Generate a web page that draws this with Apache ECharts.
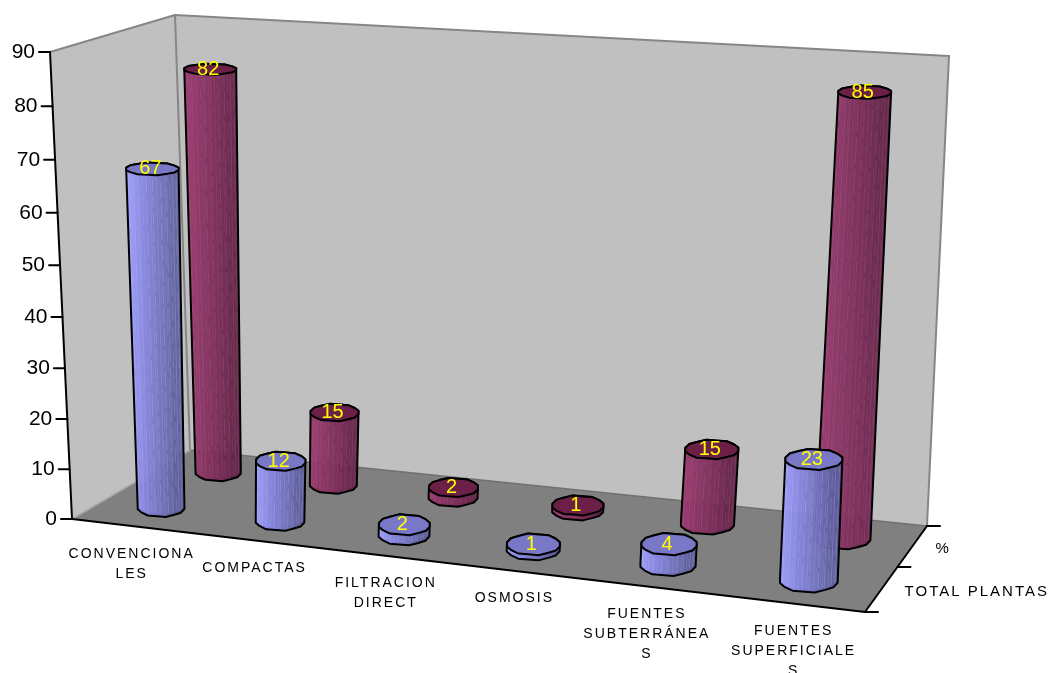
<!DOCTYPE html>
<html>
<head>
<meta charset="utf-8">
<style>html,body{margin:0;padding:0;background:#fff}#c{width:1050px;height:673px}</style>
<script src="https://cdn.jsdelivr.net/npm/echarts@6/dist/echarts.min.js"></script>
</head>
<body>
<div id="c"></div>
<script>
// Plant counts per treatment type, shown as two rows of 3D cylinders.
const categories = ['CONVENCIONALES', 'COMPACTAS', 'FILTRACION DIRECT', 'OSMOSIS', 'FUENTES SUBTERRÁNEAS', 'FUENTES SUPERFICIALES'];
const tickLabels = ['CONVENCIONA\nLES', 'COMPACTAS', 'FILTRACION\nDIRECT', 'OSMOSIS', 'FUENTES\nSUBTERRÁNEA\nS', 'FUENTES\nSUPERFICIALE\nS'];
const totalPlantas = [67, 12, 2, 1, 4, 23];
const porcentaje = [82, 15, 2, 1, 15, 85];
const valueTicks = [0, 10, 20, 30, 40, 50, 60, 70, 80, 90];
const depthNames = ['TOTAL PLANTAS', '%'];

// Box corners on screen, in the order front-left, front-right, back-right, back-left.
const FLOOR = [[72, 519], [865, 612], [927, 526], [190, 450]];
const CEILING = [[50, 52], [880, 105], [949, 56], [175, 15]];
const CAPTION_SHIFT = [1, 3, 8, 5, 0, 3];
const FONT = '"Liberation Sans", Arial, sans-serif';
const RU = 0.034, RD = 0.13, FACETS = 16, DENSE = 40, HEIGHT_BOW = 0.05;
const PALETTE = {
  blue: { stops: ['#9c9cff', '#8282dc', '#6c6cb4', '#50508c'], cap: '#7878c6', stripe: '#c4c4ff' },
  wine: { stops: ['#97356a', '#853060', '#702650', '#541c3c'], cap: '#6c2048', stripe: '#c06a98' }
};

// Homography from the unit square to the floor quad.
function quadMap(q) {
  const [[x0, y0], [x1, y1], [x2, y2], [x3, y3]] = q;
  const dx1 = x1 - x2, dx2 = x3 - x2, dx3 = x0 - x1 + x2 - x3;
  const dy1 = y1 - y2, dy2 = y3 - y2, dy3 = y0 - y1 + y2 - y3;
  const den = dx1 * dy2 - dx2 * dy1;
  const g = (dx3 * dy2 - dx2 * dy3) / den, h = (dx1 * dy3 - dx3 * dy1) / den;
  const a = x1 - x0 + g * x1, b = x3 - x0 + h * x3, d = y1 - y0 + g * y1, e = y3 - y0 + h * y3;
  return (u, t) => {
    const w = g * u + h * t + 1;
    return [(a * u + b * t + x0) / w, (d * u + e * t + y0) / w];
  };
}
// Bilinear blend across the ceiling quad.
function ceilingAt(u, t) {
  const [a, b, c, d] = CEILING;
  return [0, 1].map(k => (1 - t) * ((1 - u) * a[k] + u * b[k]) + t * ((1 - u) * d[k] + u * c[k]));
}
const floorAt = quadMap(FLOOR);
// Box coordinates (u along categories, d in depth, v up) to screen pixels.
function project(u, d, v) {
  const lo = floorAt(u, d), hi = ceilingAt(u, d);
  const f = v / (1 + HEIGHT_BOW * (1 - v));
  return [lo[0] + f * (hi[0] - lo[0]), lo[1] + f * (hi[1] - lo[1])];
}

const chart = echarts.init(document.getElementById('c'), null, { renderer: 'canvas' });
// Axis captions live on their own canvas layer so they can be letter-spaced.
const captionLayer = chart.getZr().painter.getLayer && chart.getZr().painter.getLayer(5);
if (captionLayer && captionLayer.ctx) captionLayer.ctx.letterSpacing = '2px';

// Grid coordinates of the hidden axes, normalised to the box.
function toUnit(api, cat, val) {
  const p = api.coord([cat, val]);
  return [p[0] / chart.getWidth(), 1 - p[1] / chart.getHeight()];
}
function line(a, b, color, width) {
  return { type: 'line', shape: { x1: a[0], y1: a[1], x2: b[0], y2: b[1] }, style: { stroke: color, lineWidth: width, lineCap: 'round' }, silent: true };
}
function poly(points, fill, stroke, width) {
  return { type: 'polygon', shape: { points }, style: { fill, stroke: stroke || null, lineWidth: width || 0, lineJoin: 'round' }, silent: true };
}
function hull(points) {
  const p = points.slice().sort((a, b) => a[0] - b[0] || a[1] - b[1]);
  const cross = (o, a, b) => (a[0] - o[0]) * (b[1] - o[1]) - (a[1] - o[1]) * (b[0] - o[0]);
  const lo = [], up = [];
  p.forEach(q => { while (lo.length > 1 && cross(lo[lo.length - 2], lo[lo.length - 1], q) <= 0) lo.pop(); lo.push(q); });
  p.slice().reverse().forEach(q => { while (up.length > 1 && cross(up[up.length - 2], up[up.length - 1], q) <= 0) up.pop(); up.push(q); });
  return lo.slice(0, -1).concat(up.slice(0, -1));
}

// Walls, floor, value axis and depth ticks.
function renderFrame(params, api) {
  const children = [
    poly([project(0, 0, 1), project(0, 1, 1), project(0, 1, 0), project(0, 0, 0)], '#c0c0c0'),
    poly([project(0, 1, 1), project(1, 1, 1), project(1, 1, 0), project(0, 1, 0)], '#c0c0c0'),
    poly([project(0, 0, 0), project(1, 0, 0), project(1, 1, 0), project(0, 1, 0)], '#808080'),
    line(project(0, 0, 1), project(0, 1, 1), '#868686', 2),
    line(project(0, 1, 1), project(1, 1, 1), '#868686', 2),
    line(project(0, 1, 1), project(0, 1, 0), '#868686', 2),
    line(project(1, 1, 1), project(1, 1, 0), '#868686', 2),
    line(project(0, 1, 0), project(1, 1, 0), '#707070', 1.5),
    line(project(0, 0, 0), project(0, 1, 0), '#a8a8a8', 1.5),
    line(project(0, 0, 1), project(0, 0, 0), '#000', 2),
    line(project(0, 0, 0), project(1, 0, 0), '#000', 2),
    line(project(1, 0, 0), project(1, 1, 0), '#000', 2)
  ];
  [0, 0.5, 1].forEach(d => {
    const p = project(1, d, 0);
    children.push(line(p, [p[0] + 13, p[1]], '#000', 2));
  });
  valueTicks.forEach(t => {
    const v = toUnit(api, 0, t)[1];
    const p = project(0, 0, v);
    children.push(line(p, [p[0] - 11, p[1]], '#000', 2));
    children.push({
      type: 'text', silent: true,
      style: { x: p[0] - 15, y: p[1], text: String(t), align: 'right', verticalAlign: 'middle', font: '21px ' + FONT, fill: '#000' }
    });
  });
  return { type: 'group', children };
}

// One cylinder: body hull, grain, outline, cap, value label.
function renderCylinder(depthIndex, pal) {
  return function (params, api) {
    const cat = api.value(0), val = api.value(1);
    const uc = toUnit(api, cat, 0)[0], v = toUnit(api, cat, val)[1];
    const dc = (depthIndex + 0.5) / 2;
    // Level ellipse at a given height, sized by the local perspective.
    const ellipse = h => {
      const c = project(uc, dc, h);
      const rx = Math.abs(project(uc + RU, dc, h)[0] - project(uc - RU, dc, h)[0]) / 2;
      const ry = Math.abs(project(uc, dc + RD, h)[1] - project(uc, dc - RD, h)[1]) / 2;
      return { c, rx, ry };
    };
    const eb = ellipse(0), et = ellipse(v);
    const ring = e => {
      const out = [];
      for (let i = 0; i < FACETS; i++) {
        const t = (i + 0.5) / FACETS * Math.PI * 2;
        const bump = i % 2 ? 1.05 : 0.96;
        out.push([e.c[0] + e.rx * Math.cos(t), e.c[1] + e.ry * bump * Math.sin(t)]);
      }
      return out;
    };
    const base = ring(eb), top = ring(et);
    const outline = hull(base.concat(top));
    const gradient = new echarts.graphic.LinearGradient(0, 0, 1, 0, pal.stops.map((c, i) => ({ offset: i / (pal.stops.length - 1), color: c })));
    const children = [{
      type: 'polygon', silent: true, shape: { points: outline },
      style: { fill: gradient, opacity: 0.94 }
    }];
    // Vertical grain across the visible half of the body.
    for (let k = 2; k < DENSE - 1; k++) {
      const t = k / DENSE * Math.PI;
      const a = [eb.c[0] + eb.rx * Math.cos(t), eb.c[1] + eb.ry * Math.sin(t) - 3];
      const b = [et.c[0] + et.rx * Math.cos(t), et.c[1] + et.ry * Math.sin(t) + 2];
      if (b[1] >= a[1]) continue;
      const w = [0.16, 0.05, 0.28, 0.1, 0.2, 0.03, 0.24][k % 7];
      children.push({
        type: 'line', silent: true,
        shape: { x1: a[0], y1: a[1], x2: b[0], y2: b[1] },
        style: { stroke: pal.stripe, lineWidth: 1, opacity: w, lineDash: k % 3 ? [13 + k % 5 * 4, 4 + k % 4] : null }
      });
    }
    children.push({
      type: 'polygon', silent: true, shape: { points: outline },
      style: { fill: null, stroke: '#000', lineWidth: 2, lineJoin: 'round' }
    });
    children.push(poly(top, pal.cap, '#000', 2));
    children.push({
      type: 'text', silent: true,
      style: { x: et.c[0] - 2, y: et.c[1], text: String(val), align: 'center', verticalAlign: 'middle', font: '20px ' + FONT, fill: '#ffff00' }
    });
    return { type: 'group', children };
  };
}

// Category captions under the front edge and series captions beside the depth ticks.
function renderCaptions(params, api) {
  const children = tickLabels.map((label, i) => {
    const u = toUnit(api, i, 0)[0];
    const p = project(u, 0, 0);
    return {
      type: 'text', silent: true,
      style: { x: p[0] + CAPTION_SHIFT[i], y: p[1] + 18, text: label, align: 'center', verticalAlign: 'top', lineHeight: 20, font: '14px ' + FONT, fill: '#000' }
    };
  });
  depthNames.forEach((name, k) => {
    const p = project(1, (k + 0.5) / 2, 0);
    children.push({
      type: 'text', silent: true,
      style: { x: p[0] + 23, y: p[1] + 3, text: name, align: 'left', verticalAlign: 'middle', font: '15px ' + FONT, fill: '#000' }
    });
  });
  return { type: 'group', children };
}

chart.setOption({
  animation: false,
  backgroundColor: '#fff',
  grid: { left: 0, right: 0, top: 0, bottom: 0 },
  xAxis: { type: 'category', data: categories, show: false },
  yAxis: { type: 'value', min: 0, max: 90, interval: 10, show: false },
  tooltip: { show: false },
  series: [
    { type: 'custom', name: 'frame', silent: true, clip: false, renderItem: renderFrame, data: [[0, 0]], z: 1 },
    { type: 'custom', name: depthNames[1], silent: true, clip: false, renderItem: renderCylinder(1, PALETTE.wine), data: porcentaje.map((y, i) => [i, y]), z: 2 },
    { type: 'custom', name: depthNames[0], silent: true, clip: false, renderItem: renderCylinder(0, PALETTE.blue), data: totalPlantas.map((y, i) => [i, y]), z: 3 },
    { type: 'custom', name: 'captions', silent: true, clip: false, renderItem: renderCaptions, data: [[0, 0]], z: 4, zlevel: 5 }
  ]
});
</script>
</body>
</html>
